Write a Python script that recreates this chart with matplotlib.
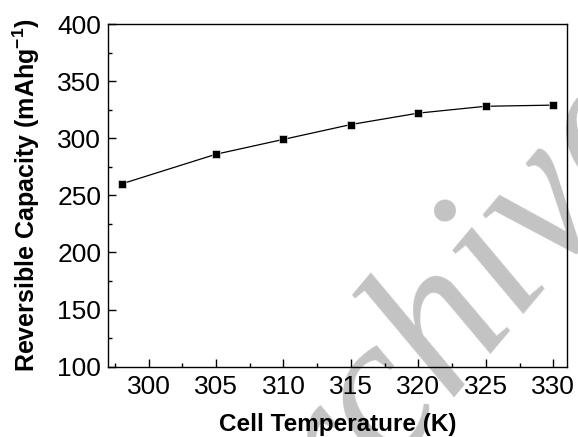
import matplotlib
matplotlib.use("Agg")
import matplotlib.pyplot as plt
from matplotlib.ticker import MultipleLocator

#
# data
#
temperature = [298, 305, 310, 315, 320, 325, 330]
capacity = [260, 286, 299, 312, 322, 328, 329]

plt.rcParams['font.family'] = ['Liberation Sans', 'DejaVu Sans']

fig = plt.figure(figsize=(5.78, 4.37), dpi=100)
ax = fig.add_axes([0.187, 0.161, 0.7935, 0.784])
ax.patch.set_visible(False)
ax.plot(temperature, capacity, '-', color='black', lw=0.9,
        marker='s', markersize=5.5, markerfacecolor='black',
        markeredgecolor='white', markeredgewidth=0.4)

ax.set_xlim(297, 331)
ax.set_ylim(100, 400)
ax.xaxis.set_major_locator(MultipleLocator(5))
ax.xaxis.set_minor_locator(MultipleLocator(2.5))
ax.yaxis.set_major_locator(MultipleLocator(50))
ax.yaxis.set_minor_locator(MultipleLocator(25))
ax.tick_params(which='both', direction='in', top=False, right=False,
               labelsize=19, width=1)
ax.tick_params(which='major', length=6)
ax.tick_params(which='minor', length=3)
ax.tick_params(axis='x', which='major', pad=6)
ax.tick_params(axis='y', which='major', pad=5)
for s in ax.spines.values():
    s.set_linewidth(1.0)

ax.set_xlabel('Cell Temperature (K)', fontsize=17.5, fontweight='bold', labelpad=10)
ax.set_ylabel('Reversible Capacity (mAhg$^{\\mathregular{-1}}$)', fontsize=18,
              fontweight='bold', labelpad=11)

# watermark, behind everything
fig.text(0.75, 0.18, 'Archive', fontsize=150, family='Liberation Serif',
         style='italic', color='#c3c3c3', rotation=50,
         ha='center', va='center', zorder=-1)

fig.savefig('out.png', dpi=100)
